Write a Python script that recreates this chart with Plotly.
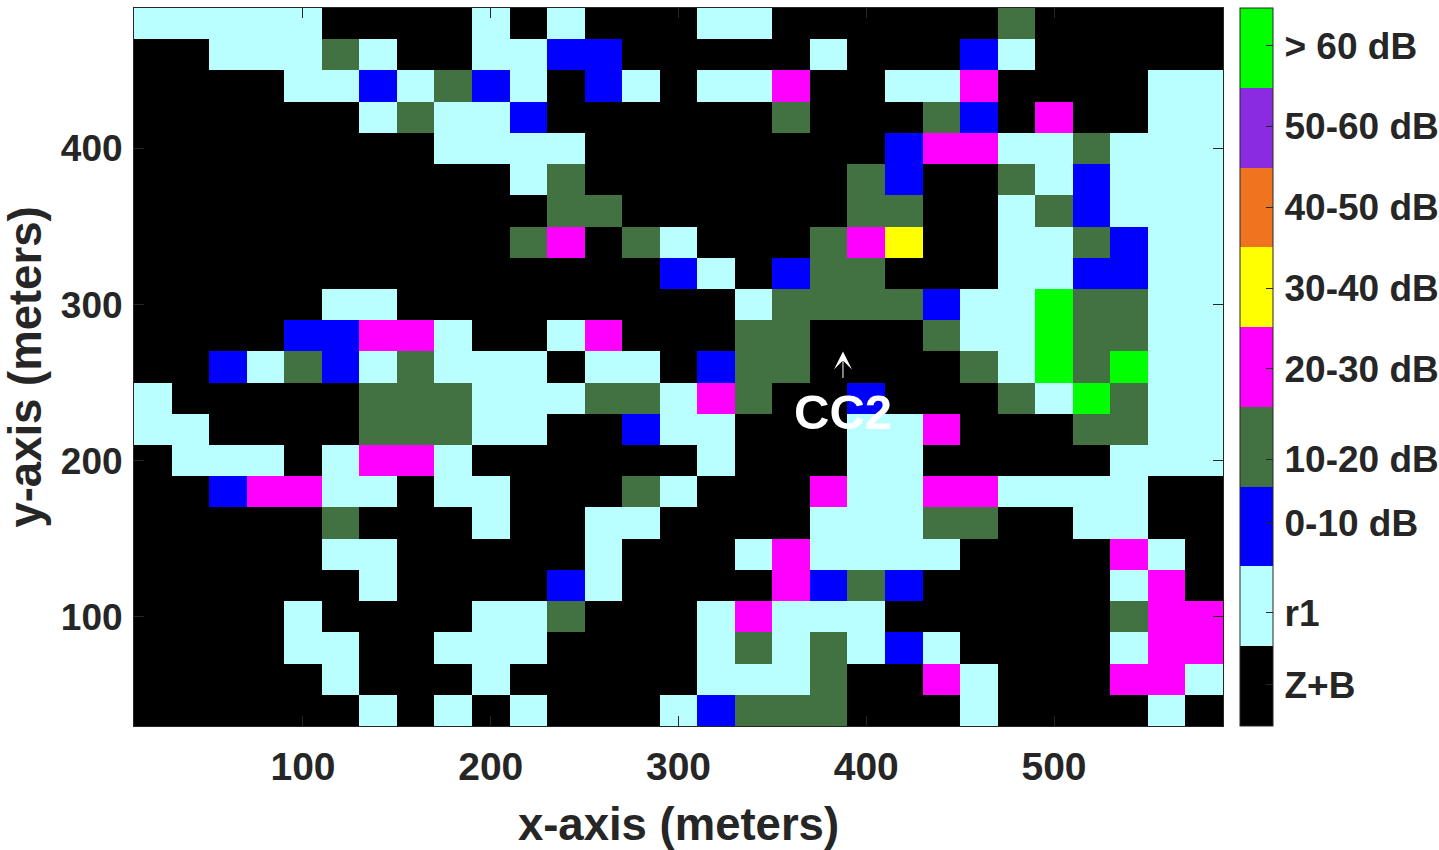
import plotly.graph_objects as go

x_centers = list(range(20, 600, 20))
y_centers = list(range(480, 20, -20))
colors = ["#000000", "#BAFFFF", "#0000FF", "#427242", "#FF00FF", "#FFFF00", "#F07420", "#8A2BE2", "#00FF00"]
labels = ["\u200aZ+B", "\u200ar1", "\u200a0-10 dB", "\u200a10-20 dB", "\u200a20-30 dB", "\u200a30-40 dB", "\u200a40-50 dB", "\u200a50-60 dB", "\u200a> 60 dB"]
label_ticks = [0.46, 1.26, 2.26, 2.97, 3.98, 4.88, 5.78, 6.68, 7.58]

grid = [
    [1,1,1,1,1,0,0,0,0,1,0,1,0,0,0,1,1,0,0,0,0,0,0,3,0,0,0,0,0],
    [0,0,1,1,1,3,1,0,0,1,1,2,2,0,0,0,0,0,1,0,0,0,2,1,0,0,0,0,0],
    [0,0,0,0,1,1,2,1,3,2,1,0,2,1,0,1,1,4,0,0,1,1,4,0,0,0,0,1,1],
    [0,0,0,0,0,0,1,3,1,1,2,0,0,0,0,0,0,3,0,0,0,3,2,0,4,0,0,1,1],
    [0,0,0,0,0,0,0,0,1,1,1,1,0,0,0,0,0,0,0,0,2,4,4,1,1,3,1,1,1],
    [0,0,0,0,0,0,0,0,0,0,1,3,0,0,0,0,0,0,0,3,2,0,0,3,1,2,1,1,1],
    [0,0,0,0,0,0,0,0,0,0,0,3,3,0,0,0,0,0,0,3,3,0,0,1,3,2,1,1,1],
    [0,0,0,0,0,0,0,0,0,0,3,4,0,3,1,0,0,0,3,4,5,0,0,1,1,3,2,1,1],
    [0,0,0,0,0,0,0,0,0,0,0,0,0,0,2,1,0,2,3,3,0,0,0,1,1,2,2,1,1],
    [0,0,0,0,0,1,1,0,0,0,0,0,0,0,0,0,1,3,3,3,3,2,1,1,8,3,3,1,1],
    [0,0,0,0,2,2,4,4,1,0,0,1,4,0,0,0,3,3,0,0,0,3,1,1,8,3,3,1,1],
    [0,0,2,1,3,2,1,3,1,1,1,0,1,1,0,2,3,3,0,0,0,0,3,1,8,3,8,1,1],
    [1,0,0,0,0,0,3,3,3,1,1,1,3,3,1,4,3,0,0,2,0,0,0,3,1,8,3,1,1],
    [1,1,0,0,0,0,3,3,3,1,1,0,0,2,1,1,0,0,0,1,1,4,0,0,0,3,3,1,1],
    [0,1,1,1,0,1,4,4,1,0,0,0,0,0,0,1,0,0,0,1,1,0,0,0,0,0,1,1,1],
    [0,0,2,4,4,1,1,0,1,1,0,0,0,3,1,0,0,0,4,1,1,4,4,1,1,1,1,0,0],
    [0,0,0,0,0,3,0,0,0,1,0,0,1,1,0,0,0,0,1,1,1,3,3,0,0,1,1,0,0],
    [0,0,0,0,0,1,1,0,0,0,0,0,1,0,0,0,1,4,1,1,1,1,0,0,0,0,4,1,0],
    [0,0,0,0,0,0,1,0,0,0,0,2,1,0,0,0,0,4,2,3,2,0,0,0,0,0,1,4,0],
    [0,0,0,0,1,0,0,0,0,1,1,3,0,0,0,1,4,1,1,1,0,0,0,0,0,0,3,4,4],
    [0,0,0,0,1,1,0,0,1,1,1,0,0,0,0,1,3,1,3,1,2,1,0,0,0,0,1,4,4],
    [0,0,0,0,0,1,0,0,0,1,0,0,0,0,0,1,1,1,3,0,0,4,1,0,0,0,4,4,1],
    [0,0,0,0,0,0,1,0,1,0,1,0,0,0,1,2,3,3,3,0,0,0,1,0,0,0,0,1,0],
]

n = len(colors)
scale = []
for i, c in enumerate(colors):
    scale += [[i / n, c], [(i + 1) / n, c]]

FONT = "Liberation Sans"
INK = "#262626"

fig = go.Figure(go.Heatmap(
    x=x_centers, y=y_centers, z=grid, zmin=0, zmax=n - 1,
    colorscale=scale, xgap=0, ygap=0,
    colorbar=dict(
        thickness=33, thicknessmode="pixels", len=1, lenmode="fraction",
        x=1.0156, xanchor="left", xpad=0, y=0.5, yanchor="middle", ypad=0,
        outlinecolor=INK, outlinewidth=1,
        ticks="inside", ticklen=7, tickcolor=INK, tickwidth=1,
        tickmode="array", tickvals=label_ticks, ticktext=labels,
        tickfont=dict(family=FONT, size=37, color=INK, weight="bold"),
    ),
))

axis = dict(ticks="inside", ticklen=10, tickcolor=INK, tickwidth=1, showline=True, linecolor=INK,
            linewidth=1, mirror="ticks", showgrid=False, zeroline=False)
TITLE_FONT = dict(family=FONT, size=45.5, color=INK, weight="bold")

fig.update_layout(
    width=1439, height=850, margin=dict(l=134, r=216, t=8, b=124, autoexpand=False),
    paper_bgcolor="white", plot_bgcolor="black",
    xaxis=dict(range=[10, 590], tickvals=[100, 200, 300, 400, 500], ticklabelstandoff=6,
               tickfont=dict(family=FONT, size=39, color=INK, weight="bold"),
               title=dict(text="x-axis (meters)", font=TITLE_FONT, standoff=26), **axis),
    yaxis=dict(range=[30, 490], tickvals=[100, 200, 300, 400], ticklabelstandoff=3,
               tickfont=dict(family=FONT, size=37, color=INK, weight="bold"),
               title=dict(text="y-axis (meters)", font=TITLE_FONT, standoff=20), **axis),
    annotations=[
        dict(x=387.6, y=270, ax=387.6, ay=252, xref="x", yref="y", axref="x", ayref="y", text="",
             showarrow=True, arrowhead=3, arrowsize=3, arrowwidth=1, arrowcolor="white"),
        dict(x=387.6, y=231, xref="x", yref="y", text="CC2", showarrow=False,
             font=dict(family=FONT, size=49, color="white", weight="bold")),
    ],
)

fig.write_html("out.html", config=dict(displayModeBar=False), post_script="document.body.style.margin='0';")
